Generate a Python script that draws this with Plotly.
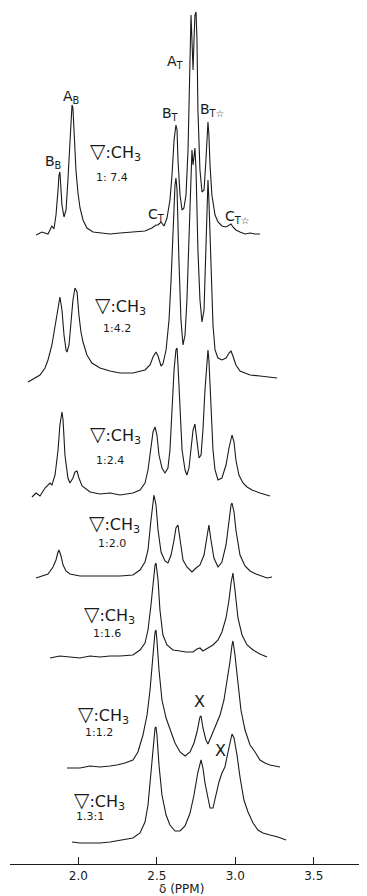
import plotly.graph_objects as go

# ---------------- data (chemical shift in ppm, intensity in arbitrary units) ----------------
ratios = ["1: 7.4", "1:4.2", "1:2.4", "1:2.0", "1:1.6", "1:1.2", "1.3:1"]

ppm_1 = [1.731, 1.769, 1.807, 1.832, 1.845, 1.858, 1.871, 1.877, 1.883, 1.890, 1.896, 1.909, 1.922, 1.934,
         1.947, 1.960, 1.966, 1.973, 1.985, 1.998, 2.011, 2.030, 2.055, 2.094, 2.138, 2.202, 2.266, 2.348,
         2.425, 2.469, 2.495, 2.508, 2.527, 2.546, 2.565, 2.584, 2.597, 2.610, 2.622, 2.629, 2.635, 2.648,
         2.661, 2.673, 2.686, 2.699, 2.712, 2.718, 2.724, 2.731, 2.737, 2.743, 2.750, 2.756, 2.762, 2.775,
         2.788, 2.801, 2.813, 2.820, 2.826, 2.832, 2.839, 2.851, 2.871, 2.890, 2.915, 2.941, 2.960, 2.973,
         2.985, 3.004, 3.030, 3.062, 3.094, 3.126, 3.157]
int_1 = [-2, 1, -1, 7, 4, 18, 43, 58, 61, 48, 28, 16, 23, 53,
         98, 128, 125, 103, 63, 40, 25, 13, 5, 1, 0, -1, 0, 1,
         2, 5, 8, 8, 11, 7, 15, 33, 58, 93, 108, 103, 73, 38,
         23, 25, 38, 83, 173, 218, 193, 163, 193, 218, 221, 193, 123, 63,
         41, 43, 73, 103, 111, 98, 68, 38, 18, 11, 7, 6, 8, 9,
         6, 3, 1, -1, 0, -1, -1]

ppm_2 = [1.680, 1.724, 1.756, 1.788, 1.807, 1.832, 1.852, 1.871, 1.883, 1.896, 1.909, 1.922, 1.928, 1.941,
         1.954, 1.966, 1.979, 1.992, 2.004, 2.017, 2.030, 2.055, 2.087, 2.138, 2.202, 2.266, 2.348, 2.425,
         2.457, 2.476, 2.495, 2.508, 2.527, 2.539, 2.559, 2.578, 2.591, 2.603, 2.616, 2.622, 2.629, 2.641,
         2.654, 2.667, 2.680, 2.692, 2.705, 2.718, 2.724, 2.731, 2.737, 2.743, 2.750, 2.762, 2.775, 2.788,
         2.801, 2.813, 2.820, 2.826, 2.832, 2.845, 2.858, 2.871, 2.890, 2.915, 2.941, 2.960, 2.973, 2.985,
         3.004, 3.030, 3.062, 3.094, 3.157, 3.221, 3.266]
int_2 = [-5, -1, 2, 9, 17, 32, 52, 72, 80, 67, 42, 27, 25, 32,
         52, 77, 89, 85, 62, 45, 35, 22, 14, 9, 6, 4, 4, 7,
         12, 20, 25, 21, 11, 13, 27, 57, 97, 147, 192, 199, 187, 117,
         57, 32, 42, 77, 137, 217, 227, 212, 222, 229, 207, 127, 77, 55,
         67, 137, 177, 197, 177, 107, 52, 27, 19, 17, 19, 24, 26, 21,
         12, 6, 4, 2, 1, 0, -1]

ppm_3 = [1.705, 1.731, 1.756, 1.788, 1.820, 1.832, 1.852, 1.871, 1.883, 1.896, 1.903, 1.915, 1.934, 1.947,
         1.966, 1.979, 1.992, 2.004, 2.024, 2.049, 2.075, 2.138, 2.202, 2.266, 2.348, 2.393, 2.425, 2.444,
         2.463, 2.476, 2.489, 2.501, 2.514, 2.533, 2.552, 2.571, 2.584, 2.597, 2.610, 2.622, 2.629, 2.635,
         2.648, 2.661, 2.680, 2.692, 2.705, 2.718, 2.731, 2.743, 2.756, 2.769, 2.782, 2.794, 2.807, 2.820,
         2.826, 2.832, 2.845, 2.858, 2.871, 2.890, 2.915, 2.941, 2.960, 2.973, 2.979, 2.992, 3.004, 3.023,
         3.049, 3.075, 3.107, 3.157, 3.221]
int_3 = [-2, 2, -1, 7, 12, 10, 20, 45, 70, 83, 75, 40, 17, 12,
         17, 23, 24, 17, 9, 6, 3, 1, 2, 0, 2, 5, 12, 25,
         45, 63, 68, 60, 40, 27, 22, 27, 45, 85, 125, 145, 147, 130,
         80, 45, 25, 20, 27, 45, 65, 71, 55, 37, 40, 65, 105, 140,
         145, 135, 85, 45, 25, 15, 17, 30, 47, 58, 60, 53, 35, 20,
         12, 8, 5, 2, -1]

ppm_4 = [1.731, 1.769, 1.807, 1.839, 1.858, 1.871, 1.877, 1.890, 1.903, 1.922, 1.947, 2.011, 2.138, 2.266,
         2.348, 2.393, 2.425, 2.444, 2.463, 2.476, 2.482, 2.495, 2.508, 2.527, 2.552, 2.571, 2.591, 2.610,
         2.622, 2.635, 2.648, 2.667, 2.692, 2.724, 2.750, 2.775, 2.801, 2.820, 2.832, 2.845, 2.864, 2.890,
         2.915, 2.941, 2.960, 2.973, 2.979, 2.992, 3.004, 3.030, 3.062, 3.094, 3.132, 3.170, 3.202, 3.234]
int_4 = [-1, 1, 3, 10, 17, 25, 27, 21, 12, 6, 3, 1, 1, 1,
         2, 7, 15, 27, 57, 77, 82, 72, 47, 25, 16, 14, 22, 37,
         49, 52, 37, 17, 10, 5, 9, 12, 22, 42, 52, 37, 19, 10,
         15, 32, 57, 72, 74, 65, 47, 22, 11, 6, 3, 1, -1, 0]

ppm_5 = [1.820, 1.883, 1.947, 2.011, 2.075, 2.138, 2.202, 2.266, 2.348, 2.393, 2.425, 2.444, 2.463, 2.476,
         2.489, 2.495, 2.508, 2.520, 2.539, 2.565, 2.603, 2.648, 2.686, 2.731, 2.756, 2.775, 2.794, 2.826,
         2.858, 2.890, 2.915, 2.941, 2.960, 2.973, 2.979, 2.985, 2.998, 3.017, 3.043, 3.075, 3.113, 3.157,
         3.202]
int_5 = [-1, 1, 0, -1, 1, 0, 1, 1, 2, 7, 14, 27, 52, 74,
         92, 94, 77, 47, 22, 12, 7, 6, 5, 5, 8, 9, 6, 9,
         12, 17, 25, 39, 57, 74, 82, 84, 67, 39, 22, 12, 7, 3,
         0]

ppm_6 = [1.928, 2.011, 2.075, 2.138, 2.202, 2.246, 2.297, 2.348, 2.380, 2.412, 2.438, 2.457, 2.476, 2.489,
         2.495, 2.501, 2.514, 2.533, 2.559, 2.584, 2.616, 2.648, 2.680, 2.712, 2.737, 2.756, 2.775, 2.782,
         2.794, 2.813, 2.826, 2.845, 2.871, 2.903, 2.928, 2.947, 2.966, 2.979, 2.985, 2.998, 3.017, 3.036,
         3.062, 3.094, 3.126, 3.157, 3.189, 3.221, 3.253, 3.285]
int_6 = [-1, -1, 1, 0, 1, 2, 4, 7, 15, 32, 52, 77, 112, 135,
         137, 127, 97, 67, 49, 37, 24, 15, 11, 15, 24, 35, 50, 51,
         39, 27, 23, 30, 40, 52, 67, 84, 105, 122, 126, 112, 82, 57,
         37, 22, 15, 7, 4, 2, 1, 0]

ppm_7 = [1.960, 2.011, 2.075, 2.138, 2.202, 2.266, 2.348, 2.393, 2.425, 2.444, 2.463, 2.476, 2.489, 2.495,
         2.501, 2.514, 2.533, 2.559, 2.584, 2.616, 2.648, 2.680, 2.712, 2.737, 2.762, 2.782, 2.794, 2.807,
         2.826, 2.839, 2.858, 2.877, 2.896, 2.915, 2.934, 2.954, 2.973, 2.979, 2.992, 3.011, 3.030, 3.055,
         3.081, 3.113, 3.144, 3.176, 3.221, 3.272, 3.323]
int_7 = [0, -1, -1, -1, 0, 2, 4, 9, 20, 37, 67, 94, 114, 115,
         107, 77, 47, 27, 17, 11, 11, 16, 29, 47, 70, 82, 74, 59,
         42, 34, 34, 47, 60, 69, 75, 90, 104, 108, 104, 87, 65, 42,
         30, 19, 12, 9, 7, 5, 2]

tick_values = [2.0, 2.5, 3.0, 3.5]
tick_labels = ["2.0", "2.5", "3.0", "3.5"]

peak_labels = ["A<sub>B</sub>", "B<sub>B</sub>", "A<sub>T</sub>", "B<sub>T</sub>", "B<sub>T☆</sub>",
               "C<sub>T</sub>", "C<sub>T☆</sub>"]

# ---------------- layout helpers ----------------
spectra = [(ppm_1, int_1), (ppm_2, int_2), (ppm_3, int_3), (ppm_4, int_4),
           (ppm_5, int_5), (ppm_6, int_6), (ppm_7, int_7)]
offsets = [663, 519, 401, 319, 239, 129, 54]          # vertical stacking of traces
label_pos = [(2.240, 745), (2.266, 591), (2.234, 462), (2.228, 373), (2.196, 282), (2.158, 182), (2.132, 96)]
ratio_pos = [(2.215, 719), (2.247, 568), (2.202, 436), (2.215, 353), (2.183, 263), (2.132, 164), (2.075, 80)]
peak_pos = [(1.954, 799), (1.839, 734), (2.622, 834), (2.590, 782), (2.858, 786), (2.501, 681), (3.017, 679)]
x_pos = [(2.769, 195), (2.903, 146)]

FONT = "DejaVu Sans"
INK = "#1a1a1a"

# page body has an 8px default margin; the figure is sized so the plot lands where intended
PAGE_W, PAGE_H, BODY = 367, 896, 8
FIG_W, FIG_H = PAGE_W - BODY, PAGE_H - BODY

fig = go.Figure()
for (xs, ys), off in zip(spectra, offsets):
    fig.add_trace(go.Scatter(x=xs, y=[v + off for v in ys], mode="lines",
                             line=dict(color=INK, width=1.1), hoverinfo="skip", showlegend=False))

ann = []
for (x, y) in label_pos:
    ann.append(dict(x=x, y=y, text="<span style='font-size:20px'>▽</span>:CH<sub>3</sub>",
                    font=dict(size=16, family=FONT, color=INK)))
for (x, y), t in zip(ratio_pos, ratios):
    ann.append(dict(x=x, y=y, text=t, font=dict(size=11, family=FONT, color=INK)))
for (x, y), t in zip(peak_pos, peak_labels):
    ann.append(dict(x=x, y=y, text=t, font=dict(size=14, family=FONT, color=INK)))
for (x, y) in x_pos:
    ann.append(dict(x=x, y=y, text="X", font=dict(size=16, family=FONT, color=INK)))
ann.append(dict(x=2.655, y=7, text="δ (PPM)", font=dict(size=12, family=FONT, color=INK)))
for a in ann:
    a.update(xref="x", yref="y", showarrow=False, xanchor="center", yanchor="middle")

fig.update_layout(
    width=FIG_W, height=FIG_H, autosize=False,
    margin=dict(l=0, r=0, t=0, b=0),
    paper_bgcolor="white", plot_bgcolor="white",
    annotations=ann,
    xaxis=dict(domain=[2 / FIG_W, 1.0], range=[1.565, 3.839], anchor="free", position=32 / FIG_H,
               showline=True, linecolor=INK, linewidth=1.4, ticks="inside", ticklen=7,
               tickcolor=INK, tickwidth=1.2, tickvals=tick_values, ticktext=tick_labels,
               tickfont=dict(size=12, family=FONT, color=INK), showgrid=False, zeroline=False),
    yaxis=dict(range=[0, FIG_H], visible=False, showgrid=False, zeroline=False),
)

fig.write_html("out.html")
